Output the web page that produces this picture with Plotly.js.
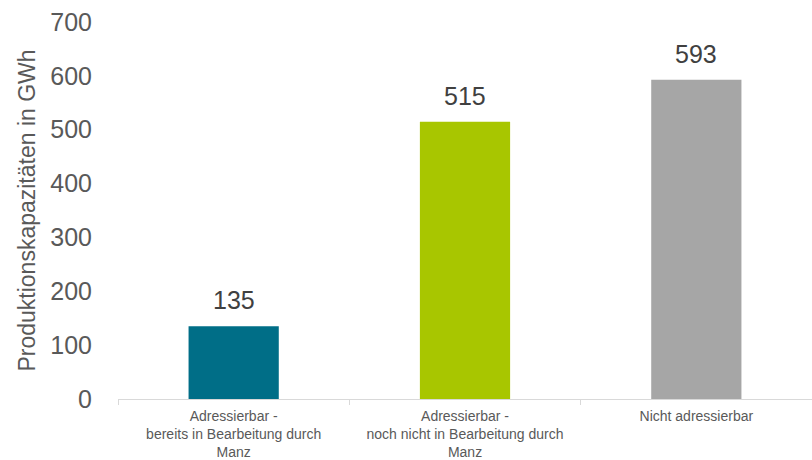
<!DOCTYPE html>
<html>
<head>
<meta charset="utf-8">
<script src="https://cdn.plot.ly/plotly-3.0.1.min.js"></script>
<style>html,body{margin:0;padding:0;background:#fff;}#chart{width:812px;height:460px;}</style>
</head>
<body>
<div id="chart"></div>
<script>
const categories = [
  "Adressierbar -<br>bereits in Bearbeitung durch<br>Manz",
  "Adressierbar -<br>noch nicht in Bearbeitung durch<br>Manz",
  "Nicht adressierbar"
];
const values = [135, 515, 593];
const barColors = ["#006E87", "#A8C600", "#A6A6A6"];
const yTitle = "Produktionskapazitäten in GWh";
const FONT = "Arial, 'Liberation Sans', sans-serif";

const trace = {
  type: "bar",
  x: categories,
  y: values,
  marker: {color: barColors},
  width: 0.39,
  hoverinfo: "none"
};

const annotations = categories.map((c, i) => ({
  x: c, y: values[i], xref: "x", yref: "y",
  text: String(values[i]),
  showarrow: false,
  yanchor: "middle",
  yshift: 26,
  font: {family: FONT, size: 25, color: "#404040"}
}));

const layout = {
  width: 812, height: 460,
  margin: {l: 118, r: 0, t: 22, b: 61},
  paper_bgcolor: "#fff", plot_bgcolor: "#fff",
  showlegend: false,
  font: {family: FONT, color: "#595959"},
  xaxis: {
    type: "category",
    showgrid: false,
    showline: true, linecolor: "#D9D9D9", linewidth: 1,
    ticks: "outside", tickson: "boundaries", ticklen: 5, tickcolor: "#D9D9D9",
    ticklabelstandoff: 4,
    tickfont: {family: FONT, size: 14, color: "#595959"},
    zeroline: false
  },
  yaxis: {
    range: [0, 700],
    dtick: 100,
    showgrid: false, zeroline: false, showline: false,
    ticks: "outside", ticklen: 20, tickcolor: "rgba(0,0,0,0)",
    tickfont: {family: FONT, size: 25, color: "#595959"},
    title: {text: yTitle, font: {family: FONT, size: 23, color: "#595959"}, standoff: 8}
  },
  annotations: annotations
};

Plotly.newPlot("chart", [trace], layout, {displayModeBar: false, staticPlot: true});
</script>
</body>
</html>
